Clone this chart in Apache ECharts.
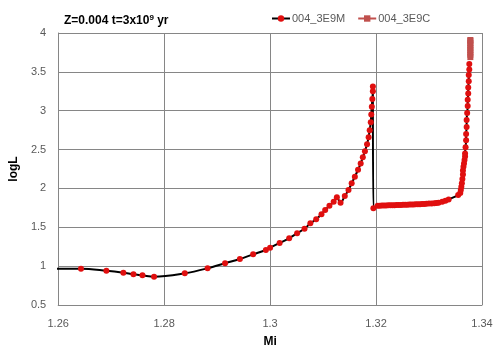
<!DOCTYPE html>
<html>
<head>
<meta charset="utf-8">
<script src="https://cdn.jsdelivr.net/npm/echarts@6/dist/echarts.min.js"></script>
<style>html,body{margin:0;padding:0;background:#fff}#c{width:500px;height:354px}</style>
</head>
<body>
<div id="c"></div>
<script>
var seriesNames = ['004_3E9M', '004_3E9C'];
var miM = [1.2585, 1.2643, 1.2691, 1.2723, 1.2742, 1.2759, 1.2781, 1.2839, 1.2882, 1.2915, 1.2943, 1.2968, 1.2992, 1.3000, 1.3018, 1.3036, 1.3051, 1.3065, 1.3076, 1.3087, 1.3097, 1.3104, 1.3112, 1.3120, 1.3126, 1.3133, 1.3141, 1.3148, 1.3154, 1.3160, 1.3166, 1.3171, 1.3175, 1.3179, 1.3183, 1.3186, 1.3188, 1.3190, 1.3191, 1.3192, 1.3193, 1.3194, 1.3194,
  1.3195, 1.3203, 1.3207, 1.3211, 1.3215, 1.3219, 1.3223, 1.3227, 1.3231, 1.3235, 1.3239, 1.3243, 1.3247, 1.3251, 1.3255, 1.3259, 1.3263, 1.3267, 1.3271, 1.3275, 1.3279, 1.3283, 1.3287, 1.3291, 1.3295, 1.3300, 1.3305, 1.3310, 1.3314, 1.3318, 1.3325, 1.3331, 1.3337,
  1.3355, 1.3359, 1.3360, 1.3361, 1.3362, 1.3363, 1.3364, 1.3364, 1.3365, 1.3366, 1.3367, 1.3368, 1.3368, 1.3369, 1.3370, 1.3370, 1.3371, 1.3371, 1.3372, 1.3373, 1.3373, 1.3374, 1.3374, 1.3375, 1.3375, 1.3376, 1.3376];
var logLM = [0.968, 0.967, 0.941, 0.916, 0.895, 0.882, 0.864, 0.908, 0.972, 1.037, 1.092, 1.152, 1.208, 1.237, 1.298, 1.358, 1.423, 1.482, 1.551, 1.603, 1.667, 1.723, 1.778, 1.829, 1.886, 1.815, 1.903, 1.980, 2.066, 2.150, 2.240, 2.320, 2.400, 2.480, 2.570, 2.660, 2.750, 2.850, 2.950, 3.050, 3.150, 3.250, 3.310,
  1.745, 1.776, 1.778, 1.779, 1.780, 1.781, 1.782, 1.783, 1.784, 1.785, 1.786, 1.787, 1.788, 1.789, 1.790, 1.791, 1.792, 1.793, 1.794, 1.795, 1.797, 1.798, 1.800, 1.801, 1.803, 1.805, 1.807, 1.810, 1.813, 1.817, 1.828, 1.842, 1.858,
  1.915, 1.940, 1.980, 2.020, 2.066, 2.120, 2.180, 2.230, 2.280, 2.320, 2.366, 2.410, 2.450, 2.530, 2.620, 2.700, 2.790, 2.880, 2.970, 3.060, 3.140, 3.220, 3.300, 3.380, 3.460, 3.530, 3.600];
var miC = [1.3378, 1.3378, 1.3378, 1.3378, 1.3378, 1.3378, 1.3378, 1.3378, 1.3378];
var logLC = [3.69, 3.72, 3.75, 3.78, 3.81, 3.84, 3.87, 3.90, 3.91];
var xTicks = [1.26, 1.28, 1.30, 1.32, 1.34];
var yTicks = [0.5, 1, 1.5, 2, 2.5, 3, 3.5, 4];

function pairs(xs, ys) { return xs.map(function (x, i) { return [x, ys[i]]; }); }

var chart = echarts.init(document.getElementById('c'), null, {renderer: 'canvas'});
var font = 'Liberation Sans';
chart.setOption({
  animation: false,
  backgroundColor: '#ffffff',
  textStyle: {fontFamily: font},
  title: {
    text: 'Z=0.004 t=3x10{sup|9} yr',
    left: 59, top: 9,
    textStyle: {
      fontFamily: font, fontSize: 12, fontWeight: 'bold', color: '#000',
      rich: {sup: {fontSize: 8, fontWeight: 'bold', color: '#000', verticalAlign: 'top', padding: [0, 0, 5, 0], fontFamily: font}}
    }
  },
  legend: {
    left: 266, top: 8,
    itemWidth: 18, itemHeight: 8, itemGap: 12,
    textStyle: {fontFamily: font, fontSize: 11, color: '#595959', padding: [0, 0, 0, -3]},
    data: seriesNames
  },
  grid: {left: 53, right: 18, top: 33, bottom: 49},
  xAxis: {
    type: 'value', min: 1.26, max: 1.34, interval: 0.02,
    name: 'Mi', nameLocation: 'middle', nameGap: 31,
    nameTextStyle: {fontFamily: font, fontSize: 12, fontWeight: 'bold', color: '#000'},
    axisLine: {lineStyle: {color: '#868686'}},
    axisTick: {show: false},
    axisLabel: {color: '#595959', fontSize: 11, margin: 13, formatter: function (v) { var r = Math.round(v * 100) / 100; return xTicks.indexOf(r) >= 0 ? String(r) : ''; }},
    splitLine: {show: true, lineStyle: {color: '#868686', width: 1}}
  },
  yAxis: {
    type: 'value', min: 0.5, max: 4, interval: 0.5,
    name: 'logL', nameLocation: 'middle', nameGap: 36, nameRotate: 90,
    nameTextStyle: {fontFamily: font, fontSize: 12, fontWeight: 'bold', color: '#000'},
    axisLine: {show: true, lineStyle: {color: '#868686'}},
    axisTick: {show: false},
    axisLabel: {color: '#595959', fontSize: 11, margin: 12, formatter: function (v) { return yTicks.indexOf(v) >= 0 ? String(v) : ''; }},
    splitLine: {show: true, lineStyle: {color: '#868686', width: 1}}
  },
  series: [
    {
      name: seriesNames[0], type: 'line', clip: true,
      data: pairs(miM, logLM),
      smooth: 0.35,
      symbol: 'circle', symbolSize: 6, showAllSymbol: true,
      lineStyle: {color: '#000000', width: 2},
      itemStyle: {color: '#e00f0f'},
      z: 3
    },
    {
      name: seriesNames[1], type: 'line', clip: true,
      data: pairs(miC, logLC),
      symbol: 'rect', symbolSize: 6,
      lineStyle: {color: '#c0504d', width: 2},
      itemStyle: {color: '#c0504d'},
      z: 4
    }
  ]
});
</script>
</body>
</html>
